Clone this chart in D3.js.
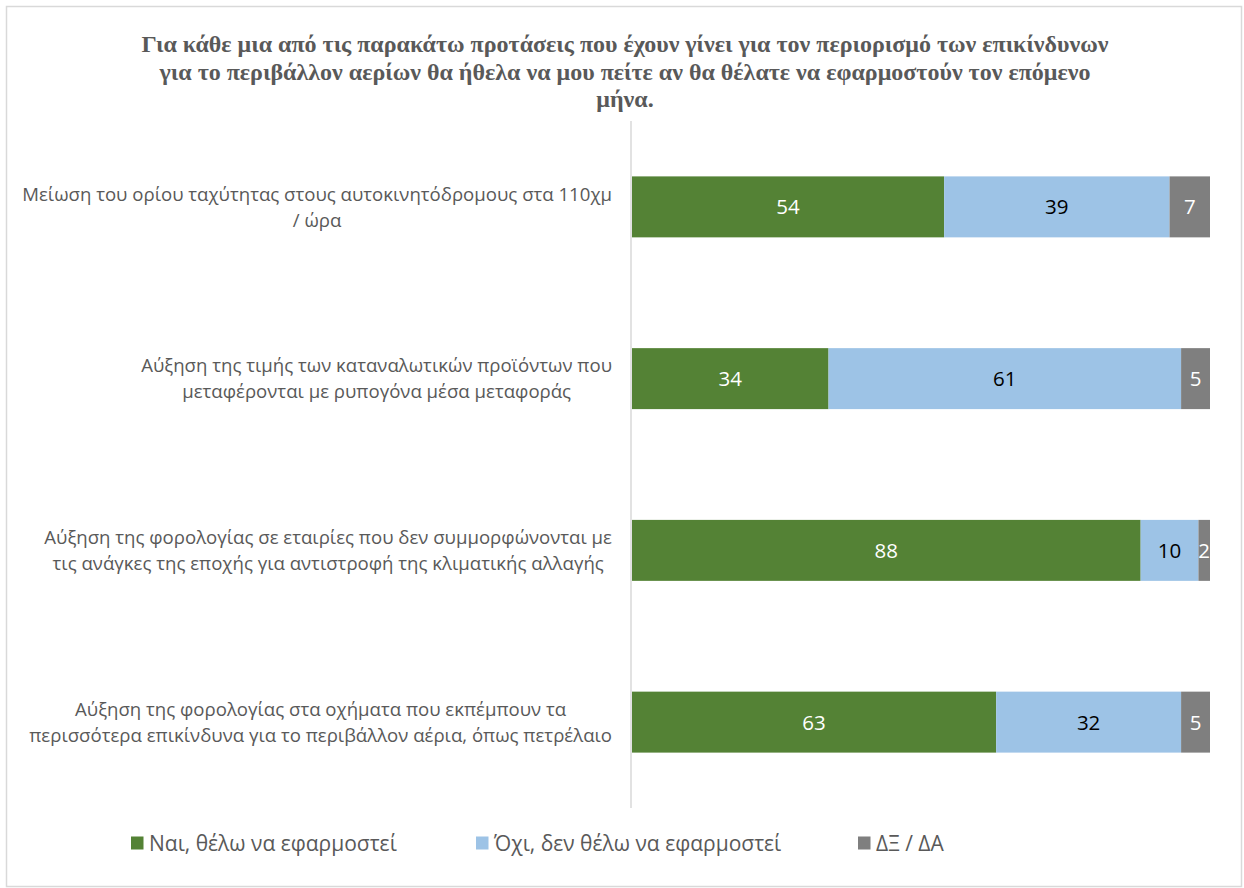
<!DOCTYPE html>
<html>
<head>
<meta charset="utf-8">
<script src="https://cdn.jsdelivr.net/npm/d3@7"></script>
<style>
  html, body { margin: 0; padding: 0; background: #fff; }
  svg { display: block; }
</style>
</head>
<body>
<svg id="chart" width="1244" height="888"></svg>
<script>
// Survey results (%), one row per proposed measure
const titleLines = [
  "Για κάθε μια από τις παρακάτω προτάσεις που έχουν γίνει για τον περιορισμό των επικίνδυνων",
  "για το περιβάλλον αερίων θα ήθελα να μου πείτε αν θα θέλατε να εφαρμοστούν τον επόμενο",
  "μήνα."
];
const categories = [
  ["Μείωση του ορίου ταχύτητας στους αυτοκινητόδρομους στα 110χμ", "/ ώρα"],
  ["Αύξηση της τιμής των καταναλωτικών προϊόντων που", "μεταφέρονται με ρυπογόνα μέσα μεταφοράς"],
  ["Αύξηση της φορολογίας σε εταιρίες που δεν συμμορφώνονται με", "τις ανάγκες της εποχής για αντιστροφή της κλιματικής αλλαγής"],
  ["Αύξηση της φορολογίας στα οχήματα που εκπέμπουν τα", "περισσότερα επικίνδυνα για το περιβάλλον αέρια, όπως πετρέλαιο"]
];
const seriesNames = ["Ναι, θέλω να εφαρμοστεί", "Όχι, δεν θέλω να εφαρμοστεί", "ΔΞ / ΔΑ"];
const yesValues = [54, 34, 88, 63];
const noValues = [39, 61, 10, 32];
const dkValues = [7, 5, 2, 5];
const seriesColors = ["#548235", "#9dc3e6", "#7f7f7f"];
const labelColors = ["#ffffff", "#000000", "#ffffff"];

const svg = d3.select("#chart");
const labelFont = "'Open Sans', 'Noto Sans', sans-serif";

// chart frame
svg.append("rect")
  .attr("x", 6.5).attr("y", 6.5)
  .attr("width", 1235).attr("height", 880)
  .attr("fill", "#fff").attr("stroke", "#d9d9d9").attr("stroke-width", 1.5);

// title
svg.append("g").selectAll("text")
  .data(titleLines)
  .join("text")
  .attr("x", 625)
  .attr("y", (d, i) => 52 + i * 27.5)
  .attr("text-anchor", "middle")
  .attr("font-family", "'Liberation Serif', 'Times New Roman', serif")
  .attr("font-weight", "bold")
  .attr("font-size", 24)
  .attr("fill", "#595959")
  .text(d => d);

const x = d3.scaleLinear().domain([0, 100]).range([632, 1210]);
const y = d3.scaleBand()
  .domain(d3.range(categories.length))
  .range([121, 808])
  .paddingInner(0.645)
  .paddingOuter(0.3225);

const rows = categories.map((c, i) => [yesValues[i], noValues[i], dkValues[i]]);
const stacked = d3.stack().keys([0, 1, 2])(rows);

// bars
const layers = svg.append("g").selectAll("g")
  .data(stacked)
  .join("g")
  .attr("fill", (d, i) => seriesColors[i]);

layers.selectAll("rect")
  .data(d => d.map((v, i) => ({ v, i })))
  .join("rect")
  .attr("x", d => x(d.v[0]))
  .attr("y", d => y(d.i))
  .attr("width", d => x(d.v[1]) - x(d.v[0]))
  .attr("height", y.bandwidth());

// value labels
stacked.forEach((layer, k) => {
  svg.append("g").selectAll("text")
    .data(layer.map((v, i) => ({ v, i })))
    .join("text")
    .attr("x", d => (x(d.v[0]) + x(d.v[1])) / 2)
    .attr("y", d => y(d.i) + y.bandwidth() / 2)
    .attr("dy", "0.36em")
    .attr("text-anchor", "middle")
    .attr("font-family", labelFont)
    .attr("font-size", 20.5)
    .attr("fill", labelColors[k])
    .text(d => d.v[1] - d.v[0]);
});

// category axis line
svg.append("line")
  .attr("x1", 631).attr("x2", 631)
  .attr("y1", 121).attr("y2", 808)
  .attr("stroke", "#d9d9d9").attr("stroke-width", 1.5);

// category labels: lines centred on each other, block right-aligned to the axis
const catG = svg.append("g");
categories.forEach((lines, i) => {
  const g = catG.append("g");
  const texts = g.selectAll("text")
    .data(lines)
    .join("text")
    .attr("y", (d, j) => y(i) + y.bandwidth() / 2 + (j - (lines.length - 1) / 2) * 26)
    .attr("dy", "0.36em")
    .attr("text-anchor", "middle")
    .attr("font-family", labelFont)
    .attr("font-size", 18.6)
    .attr("fill", "#595959")
    .text(d => d);
  let maxW = 0;
  texts.each(function () { maxW = Math.max(maxW, this.getComputedTextLength()); });
  texts.attr("x", 612 - maxW / 2);
});

// legend
const legendX = [131, 476, 858];
const legend = svg.append("g").selectAll("g")
  .data(seriesNames)
  .join("g")
  .attr("transform", (d, i) => `translate(${legendX[i]},843)`);
legend.append("rect")
  .attr("x", 0).attr("y", -6.5)
  .attr("width", 12.5).attr("height", 13)
  .attr("fill", (d, i) => seriesColors[i]);
legend.append("text")
  .attr("x", 18).attr("dy", "0.36em")
  .attr("font-family", labelFont)
  .attr("font-size", 21)
  .attr("fill", "#595959")
  .text(d => d);
</script>
</body>
</html>
